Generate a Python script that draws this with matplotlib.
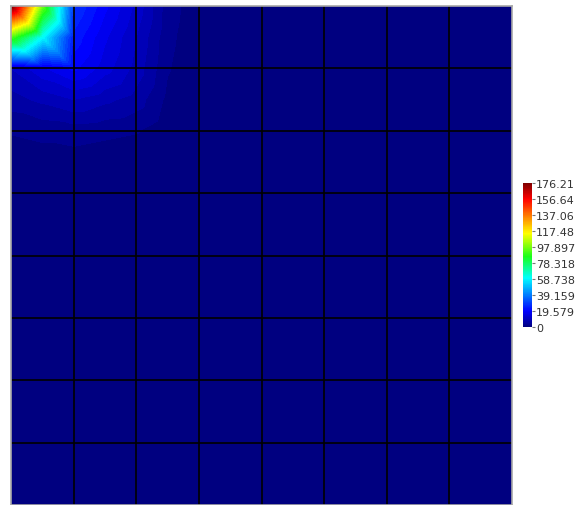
import numpy as np
import matplotlib
matplotlib.use("Agg")
import matplotlib.pyplot as plt
import matplotlib.tri as mtri
from matplotlib.colors import Normalize, LinearSegmentedColormap

# mesh: 8 x 8 cells, field sampled at half-cell nodes (y = 0 is the top edge)
n_cells = 8
step = 0.5

# nodal values near the top-left corner (rows go down, columns go right),
# everything not listed is 0
corner_values = [
    [176.21, 96.0, 28.0, 20.0, 13.0, 4.0, 1.0, 0.0],
    [92.0, 60.0, 24.0, 17.0, 11.0, 3.5, 0.8, 0.0],
    [11.0, 16.0, 20.0, 15.0, 10.0, 3.0, 0.5, 0.0],
    [7.0, 9.0, 11.0, 9.0, 7.0, 2.0, 0.2, 0.0],
    [3.0, 3.5, 4.0, 3.5, 3.0, 0.8, 0.0, 0.0],
    [1.0, 1.5, 1.5, 1.0, 0.5, 0.0, 0.0, 0.0],
]

vmin, vmax = 0.0, 176.21
tick_values = [0, 19.579, 39.159, 58.738, 78.318, 97.897, 117.48, 137.06, 156.64, 176.21]
tick_labels = ["0", "19.579", "39.159", "58.738", "78.318", "97.897",
               "117.48", "137.06", "156.64", "176.21"]

# jet-like rainbow with a saturated green in the middle
rainbow = LinearSegmentedColormap.from_list("rainbow_fe", [
    (0.0, (0.0, 0.0, 0.5)),
    (0.11, (0.0, 0.0, 1.0)),
    (0.34, (0.0, 1.0, 1.0)),
    (0.49, (0.1, 1.0, 0.1)),
    (0.65, (1.0, 1.0, 0.0)),
    (0.89, (1.0, 0.0, 0.0)),
    (1.0, (0.5, 0.0, 0.0)),
])

# build the node grid
n = int(n_cells / step) + 1
coords = np.arange(n) * step
X, Y = np.meshgrid(coords, coords)
Z = np.zeros((n, n))
cv = np.array(corner_values)
Z[:cv.shape[0], :cv.shape[1]] = cv

# split each small square along the top-left / bottom-right diagonal
tris = []
for i in range(n - 1):
    for j in range(n - 1):
        tl = i * n + j
        tr = tl + 1
        bl = tl + n
        br = bl + 1
        tris.append([tl, tr, br])
        tris.append([tl, br, bl])
tri = mtri.Triangulation(X.ravel(), Y.ravel(), np.array(tris))

fig = plt.figure(figsize=(5.85, 5.06), dpi=100)
ax = fig.add_axes([11 / 585, 0.0, 501 / 585, 499 / 506])

n_levels = 64
cmap = rainbow.resampled(n_levels)
levels = np.linspace(vmin, vmax, n_levels + 1)
ax.tricontourf(tri, Z.ravel(), levels=levels, cmap=cmap,
               vmin=vmin, vmax=vmax, antialiased=False)

# element edges
ax.vlines(np.arange(1, n_cells), 0, n_cells, colors="black", linewidth=1.2)
ax.hlines(np.arange(1, n_cells), 0, n_cells, colors="black", linewidth=1.2)

ax.set_xlim(0, n_cells)
ax.set_ylim(n_cells, 0)
ax.set_xticks([])
ax.set_yticks([])
for s in ax.spines.values():
    s.set_color("#a8a8a8")
    s.set_linewidth(1.2)

# colorbar
cax = fig.add_axes([523 / 585, (506 - 328) / 506, 9 / 585, 144 / 506])
sm = plt.cm.ScalarMappable(norm=Normalize(vmin, vmax), cmap=rainbow)
cb = fig.colorbar(sm, cax=cax, ticks=tick_values)
cb.ax.set_yticklabels(tick_labels)
cb.outline.set_visible(False)
cb.ax.tick_params(length=2, width=0.8, color="#777777", pad=1,
                  labelsize=8, labelcolor="#333333")

fig.savefig("out.png", dpi=100)
